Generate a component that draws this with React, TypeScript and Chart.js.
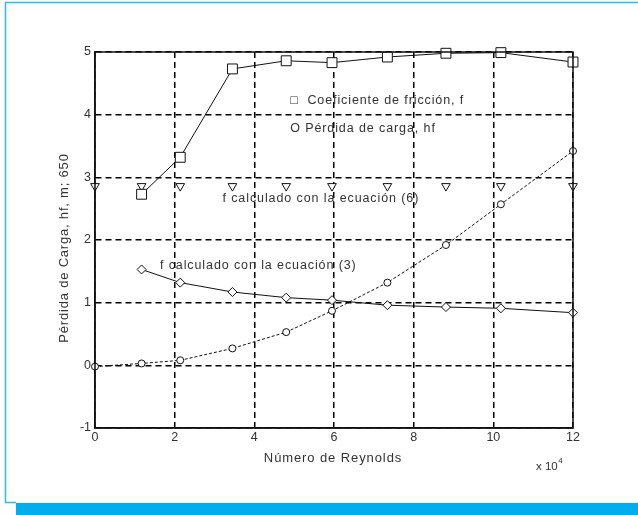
import React, { useEffect, useRef } from "react";
import { Chart, registerables } from "chart.js";

Chart.register(...registerables);

const reynolds = [1.17, 2.14, 3.45, 4.8, 5.95, 7.34, 8.81, 10.19, 12];
const reynoldsWithZero = [0, 1.17, 2.14, 3.45, 4.8, 5.95, 7.34, 8.81, 10.19, 12];
const frictionCoef = [2.73, 3.32, 4.73, 4.86, 4.83, 4.92, 4.98, 4.99, 4.84];
const headLoss = [-0.02, 0.03, 0.08, 0.27, 0.53, 0.87, 1.32, 1.92, 2.57, 3.42];
const fEq3 = [1.53, 1.32, 1.17, 1.08, 1.04, 0.96, 0.93, 0.91, 0.84];
const fEq6 = [2.86, 2.86, 2.86, 2.86, 2.86, 2.86, 2.86, 2.86, 2.86, 2.86];

const xTicks = [0, 2, 4, 6, 8, 10, 12];
const yTicks = [-1, 0, 1, 2, 3, 4, 5];

const annotations = [
  { text: "\u25A1  Coeficiente de fricción, f", x: 4.9, y: 4.23 },
  { text: "O Pérdida de carga, hf", x: 4.9, y: 3.78 },
  { text: "f calculado con la ecuación (6)", x: 3.2, y: 2.66 },
  { text: "f calculado con la ecuación (3)", x: 1.63, y: 1.6 },
];

const pts = (xs: number[], ys: number[]) => xs.map((x, i) => ({ x, y: ys[i] }));

const FONT = "'Liberation Sans', Arial, sans-serif";
const TXT = "#333";

const decorPlugin = {
  id: "decor",
  beforeDraw(chart: any) {
    const { ctx, width, height } = chart;
    ctx.save();
    ctx.fillStyle = "#fff";
    ctx.fillRect(0, 0, width, height);
    ctx.restore();
  },
  afterDraw(chart: any) {
    const { ctx, chartArea: a, scales } = chart;
    ctx.save();
    // frame
    ctx.strokeStyle = "#2bbcf0";
    ctx.lineWidth = 1.5;
    ctx.beginPath();
    ctx.moveTo(638, 2.5);
    ctx.lineTo(5.5, 2.5);
    ctx.lineTo(5.5, 502.5);
    ctx.lineTo(16, 502.5);
    ctx.stroke();
    ctx.fillStyle = "#00aeef";
    ctx.fillRect(16, 503, 622, 12);
    // box
    ctx.strokeStyle = "#111";
    ctx.lineWidth = 1.5;
    ctx.strokeRect(a.left, a.top, a.right - a.left, a.bottom - a.top);
    // annotations
    ctx.fillStyle = TXT;
    (ctx as any).letterSpacing = "0.9px";
    ctx.font = `12.5px ${FONT}`;
    ctx.textBaseline = "middle";
    ctx.textAlign = "left";
    for (const an of annotations) {
      ctx.fillText(an.text, scales.x.getPixelForValue(an.x), scales.y.getPixelForValue(an.y));
    }
    // axis titles
    ctx.font = `13px ${FONT}`;
    ctx.textAlign = "center";
    ctx.fillText("Número de Reynolds", (a.left + a.right) / 2 - 1, 458);
    ctx.textAlign = "left";
    (ctx as any).letterSpacing = "0px";
    ctx.font = `11.5px ${FONT}`;
    ctx.fillText("x 10", 536, 467);
    const w = ctx.measureText("x 10").width;
    ctx.font = `8px ${FONT}`;
    ctx.fillText("4", 536 + w + 0.5, 461);
    (ctx as any).letterSpacing = "0.8px";
    ctx.font = `13px ${FONT}`;
    ctx.translate(64, (a.top + a.bottom) / 2 + 8);
    ctx.rotate(-Math.PI / 2);
    ctx.textAlign = "center";
    ctx.fillText("Pérdida de Carga, hf, m; 650", 0, 0);
    ctx.restore();
  },
};

export default function App() {
  const ref = useRef<HTMLCanvasElement | null>(null);
  useEffect(() => {
    document.body.style.margin = "0";
    const canvas = ref.current!;
    const common = {
      borderColor: "#111",
      pointBorderColor: "#111",
      pointBackgroundColor: "#fff",
      pointBorderWidth: 1,
      borderWidth: 1,
      tension: 0,
      clip: false,
    };
    const chart = new Chart(canvas, {
      type: "scatter",
      data: {
        datasets: [
          {
            ...common,
            data: pts(reynolds, frictionCoef),
            showLine: true,
            pointStyle: "rect",
            pointRadius: 7,
          },
          {
            ...common,
            data: pts(reynoldsWithZero, headLoss),
            showLine: true,
            borderDash: [3, 2],
            pointStyle: "circle",
            pointRadius: 3.5,
          },
          {
            ...common,
            data: pts(reynolds, fEq3),
            showLine: true,
            pointStyle: "rectRot",
            pointRadius: 4.5,
          },
          {
            ...common,
            data: pts(reynoldsWithZero, fEq6),
            showLine: false,
            pointStyle: "triangle",
            rotation: 180,
            pointRadius: 5,
          },
        ],
      },
      options: {
        responsive: false,
        animation: false,
        events: [],
        layout: { padding: { left: 65, right: 65, top: 52, bottom: 57 } },
        plugins: { legend: { display: false }, tooltip: { enabled: false } },
        scales: {
          x: {
            type: "linear",
            min: 0,
            max: 12,
            afterFit: (s: any) => { s.height = 30; },
            afterBuildTicks: (s: any) => { s.ticks = xTicks.map((v) => ({ value: v })); },
            ticks: { color: TXT, font: { family: FONT, size: 12.5 }, padding: 2 },
            grid: { color: "#000", lineWidth: 1.5, drawTicks: false },
            border: { display: true, color: "#111", width: 1.5, dash: [6, 4] },
          },
          y: {
            type: "linear",
            min: -1,
            max: 5,
            afterFit: (s: any) => { s.width = 30; },
            afterBuildTicks: (s: any) => { s.ticks = yTicks.map((v) => ({ value: v })); },
            ticks: { color: TXT, font: { family: FONT, size: 12.5 }, padding: 4 },
            grid: { color: "#000", lineWidth: 1.5, drawTicks: false },
            border: { display: true, color: "#111", width: 1.5, dash: [6, 4] },
          },
        },
      },
      plugins: [decorPlugin],
    } as any);
    return () => chart.destroy();
  }, []);
  return (
    <div style={{ position: "absolute", left: 0, top: 0, width: 638, height: 515 }}>
      <canvas ref={ref} width={638} height={515} />
    </div>
  );
}
